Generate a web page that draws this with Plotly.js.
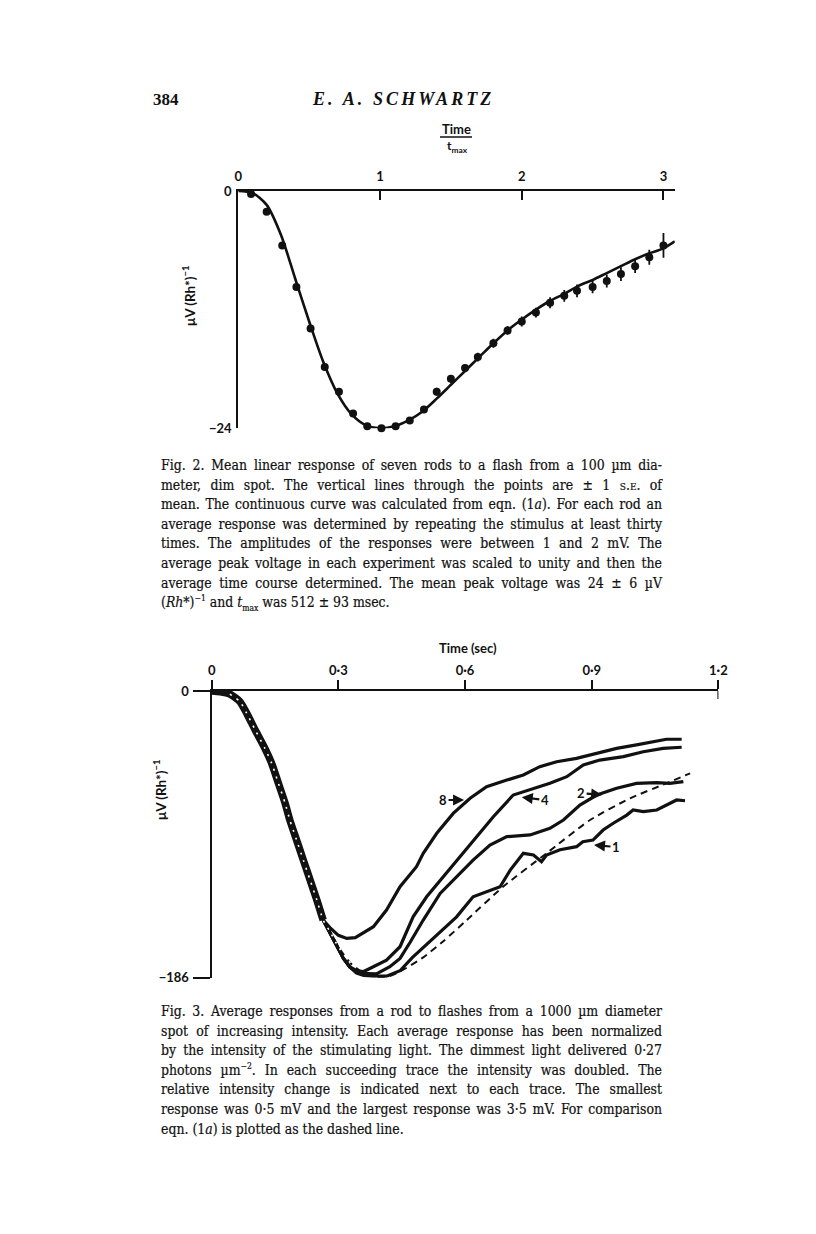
<!DOCTYPE html>
<html><head><meta charset="utf-8">
<script src="https://cdn.plot.ly/plotly-3.0.1.min.js"></script>
<style>
html,body{margin:0;padding:0;background:#fff;}
#page{position:relative;width:816px;height:1234px;overflow:hidden;background:#fff;}
#chart{position:absolute;left:0;top:0;width:816px;height:1234px;}
.hdr{position:absolute;font-family:"Liberation Serif",serif;font-weight:bold;color:#111;white-space:nowrap;}
.cap{position:absolute;left:161px;width:501px;font-family:"DejaVu Serif Condensed","Liberation Serif",serif;font-size:13.9px;color:#111;-webkit-text-stroke:0.2px #111;}
.cap div{height:19.6px;line-height:19.6px;text-align:justify;text-align-last:justify;}
.cap div.last{text-align-last:left;}
.cap sup,.cap sub{line-height:0;font-size:8.5px;}
.sc{font-variant:small-caps;}
</style></head>
<body><div id="page">
<div id="chart"></div>
<div class="hdr" style="left:153px;top:90px;font-size:17px;">384</div>
<div class="hdr" style="left:313px;top:89px;font-size:18px;font-style:italic;letter-spacing:3.1px;">E. A. SCHWARTZ</div>
<div class="cap" style="top:456px;">
<div>Fig. 2. Mean linear response of seven rods to a flash from a 100 µm dia-</div>
<div>meter, dim spot. The vertical lines through the points are ± 1 <span class="sc">s.e.</span> of</div>
<div>mean. The continuous curve was calculated from eqn. (1<i>a</i>). For each rod an</div>
<div>average response was determined by repeating the stimulus at least thirty</div>
<div>times. The amplitudes of the responses were between 1 and 2 mV. The</div>
<div>average peak voltage in each experiment was scaled to unity and then the</div>
<div>average time course determined. The mean peak voltage was 24 ± 6 µV</div>
<div class="last">(<i>Rh</i>*)<sup>−1</sup> and <i>t</i><sub>max</sub> was 512 ± 93 msec.</div>
</div>
<div class="cap" style="top:1002px;">
<div>Fig. 3. Average responses from a rod to flashes from a 1000 µm diameter</div>
<div>spot of increasing intensity. Each average response has been normalized</div>
<div>by the intensity of the stimulating light. The dimmest light delivered 0·27</div>
<div>photons µm<sup>−2</sup>. In each succeeding trace the intensity was doubled. The</div>
<div>relative intensity change is indicated next to each trace. The smallest</div>
<div>response was 0·5 mV and the largest response was 3·5 mV. For comparison</div>
<div class="last">eqn. (1<i>a</i>) is plotted as the dashed line.</div>
</div>
</div>
<script>
// ---------- Fig. 2 data (time / t_max, µV (Rh*)^-1) ----------
const fig2Ticks = [0, 1, 2, 3];
const fig2TickText = ['0', '1', '2', '3'];
const fig2YTicks = [0, -24];
const fig2YTickText = ['0', '−24'];
const fig2PointT = [0.09,0.20,0.31,0.41,0.51,0.61,0.71,0.81,0.91,1.01,1.11,1.21,1.31,1.40,1.50,1.60,1.69,1.80,1.90,2.00,2.10,2.20,2.30,2.39,2.50,2.60,2.70,2.80,2.90,3.00];
const fig2PointV = [-0.3,-2.1,-5.5,-9.7,-13.9,-17.8,-20.3,-22.5,-23.8,-24.0,-23.8,-23.2,-22.1,-20.3,-19.0,-17.9,-16.8,-15.4,-14.1,-13.2,-12.3,-11.3,-10.6,-10.1,-9.7,-9.1,-8.4,-7.6,-6.7,-5.5];
const fig2PointSE = [0.2,0.2,0.2,0.2,0.25,0.25,0.3,0.3,0.3,0.3,0.3,0.35,0.35,0.4,0.4,0.4,0.45,0.45,0.45,0.5,0.5,0.55,0.6,0.65,0.65,0.65,0.7,0.7,0.75,1.25];
const fig2CurveT = [0,0.1,0.2,0.3,0.4,0.5,0.6,0.7,0.8,0.9,1.0,1.1,1.2,1.3,1.4,1.5,1.6,1.7,1.8,1.9,2.0,2.1,2.2,2.3,2.4,2.5,2.6,2.7,2.8,2.9,3.0,3.08];
const fig2CurveV = [0,-0.2,-1.4,-4.4,-8.8,-13.2,-17.3,-20.5,-22.6,-23.7,-24.0,-23.8,-23.2,-22.3,-21.0,-19.6,-18.2,-16.8,-15.4,-14.1,-13.0,-12.0,-11.1,-10.4,-9.6,-9.0,-8.3,-7.6,-6.9,-6.3,-5.8,-5.1];

// ---------- Fig. 3 data (sec, µV (Rh*)^-1) ----------
const fig3Ticks = [0, 0.3, 0.6, 0.9, 1.2];
const fig3TickText = ['0', '0·3', '0·6', '0·9', '1·2'];
const fig3YTicks = [0, -186];
const fig3YTickText = ['0', '−186'];
// shared falling phase of all four traces
const fallT = [0,0.02,0.043,0.067,0.083,0.103,0.126,0.142,0.158,0.174,0.185,0.201,0.217,0.233,0.249,0.264];
const fallV = [0,-0.5,-2.0,-6.9,-14.5,-25.3,-37.2,-46.9,-59.9,-72.9,-83.7,-96.7,-109.7,-122.6,-135.6,-148.6];
const trace8T = [0.28,0.30,0.32,0.34,0.351,0.383,0.414,0.446,0.485,0.501,0.533,0.572,0.612,0.651,0.699,0.738,0.777,0.817,0.864,0.912,0.959,1.006,1.046,1.077,1.113];
const trace8V = [-153.5,-158.5,-160.5,-160,-158.3,-152.9,-142.1,-127,-114,-105.3,-92.3,-79.4,-69.6,-62.1,-57.8,-54.5,-49.1,-45.9,-43.7,-40.4,-37.2,-35,-32.9,-31.3,-31.3];
const trace4T = [0.28,0.296,0.312,0.327,0.343,0.36,0.375,0.414,0.446,0.46,0.477,0.509,0.548,0.588,0.627,0.667,0.714,0.754,0.801,0.841,0.88,0.919,0.975,1.022,1.069,1.113];
const trace4V = [-157,-166,-173.5,-179,-181.5,-182,-180,-174.6,-165.9,-157,-146.5,-133.5,-120.5,-107.5,-94.5,-81.6,-67.5,-64.2,-59.9,-55.6,-48,-44.8,-42.6,-39.4,-37.2,-36.5];
const trace2T = [0.28,0.296,0.312,0.327,0.343,0.351,0.39,0.422,0.446,0.47,0.501,0.541,0.58,0.619,0.659,0.699,0.754,0.801,0.833,0.872,0.912,0.959,1.006,1.054,1.085,1.117];
const trace2V = [-157,-166,-173.5,-179,-182.5,-183.2,-183.5,-178.9,-173.5,-163,-148.6,-131.3,-120.5,-109.7,-99.9,-94.5,-93.4,-89.1,-83.7,-74,-67.5,-63.1,-59.9,-59.5,-59.9,-58.8];
const trace1T = [0.28,0.296,0.312,0.327,0.343,0.36,0.383,0.414,0.446,0.475,0.519,0.555,0.58,0.619,0.659,0.683,0.707,0.738,0.762,0.781,0.793,0.825,0.864,0.879,0.903,0.927,0.951,0.983,0.998,1.022,1.054,1.077,1.101,1.121];
const trace1V = [-157,-166,-173.5,-179,-183,-184.5,-185,-185,-181.5,-173,-162,-153,-146.5,-133.5,-129.1,-127,-116.2,-105.3,-106.4,-110.8,-106.4,-103,-101,-97.8,-96.7,-90.2,-85.8,-80.5,-77.2,-78.3,-77.2,-74,-70.7,-71.2];
// eqn. (1a), dashed
const eqnT = [0,0.02,0.043,0.067,0.083,0.103,0.126,0.142,0.158,0.174,0.185,0.201,0.217,0.233,0.249,0.264,0.28,0.30,0.33,0.36,0.39,0.42,0.446,0.5,0.55,0.604,0.69,0.793,0.896,0.991,1.077,1.133];
const eqnV = [0,-0.5,-2.0,-6.9,-14.5,-25.3,-37.2,-46.9,-59.9,-72.9,-83.7,-96.7,-109.7,-122.6,-135.6,-148.6,-156,-166,-177,-183,-185.5,-185,-182,-173,-162,-148.6,-127,-105.3,-83.7,-69.6,-59.9,-53.4];
// trace labels: text, arrow tip (t, µV), text offset in px
const labelText = ['8', '4', '2', '1'];
const labelTipT = [0.600, 0.732, 0.927, 0.903];
const labelTipV = [-70.7, -68.8, -67.5, -99.9];
const labelDX = [-22, 24, -22, 23];
const labelDY = [0, 3, -2, 2];

const W = 816, H = 1234;
const px = x => x / W;
const py = y => 1 - y / H;
const sans = {family: 'Lato, "Open Sans", sans-serif', size: 13, color: '#111', weight: 700};
const ink = '#111';

const traces = [];
traces.push({x: fig2CurveT, y: fig2CurveV, xaxis: 'x', yaxis: 'y', mode: 'lines',
  line: {color: ink, width: 2.6, shape: 'spline', smoothing: 0.8}, cliponaxis: false, hoverinfo: 'skip'});
traces.push({x: fig2PointT, y: fig2PointV, xaxis: 'x', yaxis: 'y', mode: 'markers',
  marker: {color: ink, size: 8}, cliponaxis: false,
  error_y: {type: 'data', array: fig2PointSE, visible: true, color: ink, thickness: 1.8, width: 0}});

const last = a => a[a.length - 1];
traces.push({x: eqnT, y: eqnV, xaxis: 'x2', yaxis: 'y2', mode: 'lines',
  line: {color: ink, width: 2, dash: '7px,5px', shape: 'spline', smoothing: 0.6}, cliponaxis: false});
traces.push({x: fallT, y: fallV, xaxis: 'x2', yaxis: 'y2', mode: 'lines',
  line: {color: ink, width: 7.5, shape: 'spline', smoothing: 0.6}, cliponaxis: false});
[[trace8T, trace8V], [trace4T, trace4V], [trace2T, trace2V], [trace1T, trace1V]].forEach(([t, v]) => {
  traces.push({x: [last(fallT)].concat(t), y: [last(fallV)].concat(v), xaxis: 'x2', yaxis: 'y2', mode: 'lines',
    line: {color: ink, width: 3.2}, cliponaxis: false});
});
// eqn. line showing through the black band as white dots
const inBand = eqnT.map((t, i) => t > 0.04 && t <= 0.33 ? i : -1).filter(i => i >= 0);
traces.push({x: inBand.map(i => eqnT[i]), y: inBand.map(i => eqnV[i]), xaxis: 'x2', yaxis: 'y2', mode: 'lines',
  line: {color: '#fff', width: 1.6, dash: '2px,6px', shape: 'spline', smoothing: 0.6}, cliponaxis: false});

const paperNote = (x, y, text, extra) => Object.assign({xref: 'paper', yref: 'paper', x: px(x), y: py(y),
  xanchor: 'center', yanchor: 'middle', text: text, showarrow: false, font: sans}, extra || {});
const annotations = [
  paperNote(456, 129, 'Time'),
  paperNote(457, 146, 't<sub>max</sub>', {font: Object.assign({}, sans, {size: 12})}),
  paperNote(189, 296, 'μV (Rh*)<sup>−1</sup>', {textangle: -90, font: Object.assign({}, sans, {size: 13.5})}),
  paperNote(468, 648, 'Time (sec)'),
  paperNote(160, 790, 'μV (Rh*)<sup>−1</sup>', {textangle: -90, font: Object.assign({}, sans, {size: 13.5})})
];
labelText.forEach((s, i) => {
  annotations.push({xref: 'x2', yref: 'y2', x: labelTipT[i], y: labelTipV[i], text: s, showarrow: true,
    ax: labelDX[i], ay: labelDY[i], arrowhead: 2, arrowsize: 1, arrowwidth: 2.2, arrowcolor: ink, standoff: 1,
    font: Object.assign({}, sans, {size: 13})});
});

const shapes = [
  {type: 'line', xref: 'paper', yref: 'paper', x0: px(440), x1: px(472), y0: py(137), y1: py(137), line: {color: ink, width: 1.5}},
  {type: 'line', xref: 'x2', yref: 'paper', x0: last(fig3Ticks), x1: last(fig3Ticks), y0: py(691), y1: py(699), line: {color: ink, width: 2}}
];

const axisCommon = {showgrid: false, zeroline: false, showline: true, linecolor: ink, linewidth: 2.2,
  tickcolor: ink, tickwidth: 2, tickfont: sans, tickmode: 'array', fixedrange: true};

const layout = {
  width: W, height: H, margin: {l: 0, r: 0, t: 0, b: 0},
  paper_bgcolor: '#fff', plot_bgcolor: 'rgba(0,0,0,0)', showlegend: false,
  xaxis: Object.assign({}, axisCommon, {domain: [px(238.3), px(674.8)], range: [0, 3.08], side: 'top', anchor: 'y',
    ticks: 'inside', ticklen: 9, tickvals: fig2Ticks, ticktext: fig2TickText, ticklabelstandoff: 3}),
  yaxis: Object.assign({}, axisCommon, {domain: [py(428.3), py(191)], range: [-24, 0], anchor: 'x',
    ticks: 'inside', ticklen: 10, tickvals: fig2YTicks, ticktext: fig2YTickText, ticklabelstandoff: 2}),
  xaxis2: Object.assign({}, axisCommon, {domain: [px(211.7), px(718.4)], range: [0, 1.2], side: 'top', anchor: 'y2',
    ticks: 'outside', ticklen: 9, tickvals: fig3Ticks, ticktext: fig3TickText, ticklabelstandoff: 0}),
  yaxis2: Object.assign({}, axisCommon, {domain: [py(977.7), py(691)], range: [-186, 0], anchor: 'x2',
    ticks: 'outside', ticklen: 17, tickvals: fig3YTicks, ticktext: fig3YTickText, ticklabelstandoff: 1}),
  annotations: annotations, shapes: shapes
};

Plotly.newPlot('chart', traces, layout, {staticPlot: true, displayModeBar: false});
</script>
</body></html>
